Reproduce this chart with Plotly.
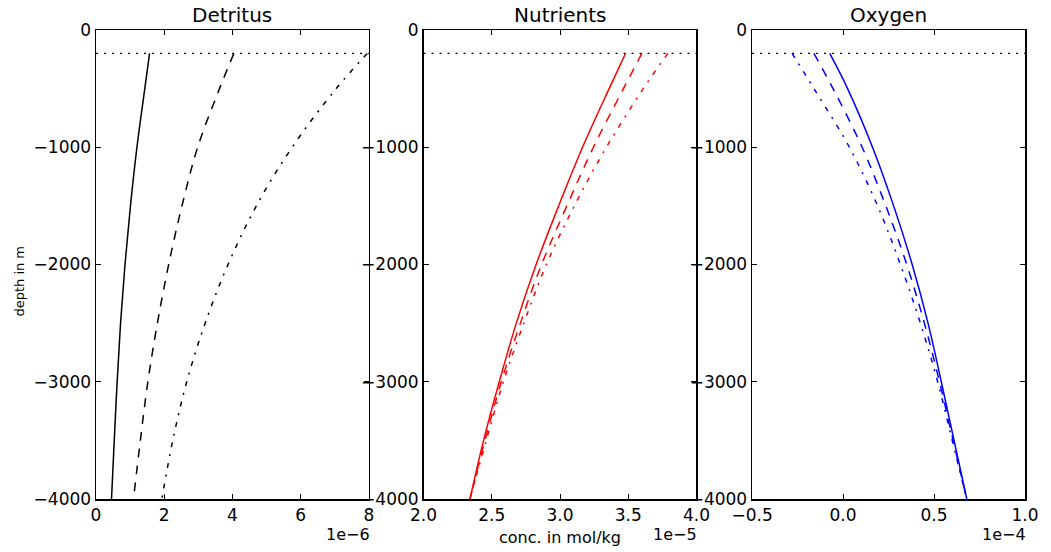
import plotly.graph_objects as go

# ---- data ----
depth = [-200, -500, -1000, -1500, -2000, -2500, -3000, -3500, -4000]
mixed_layer_depth = -200

detritus_solid = [1.57e-6, 1.43e-6, 1.20e-6, 1.01e-6, 0.85e-6, 0.72e-6, 0.62e-6, 0.535e-6, 0.455e-6]
detritus_dash = [4.04e-6, 3.62e-6, 2.98e-6, 2.52e-6, 2.13e-6, 1.80e-6, 1.52e-6, 1.30e-6, 1.10e-6]
detritus_dashdot = [7.95e-6, 7.04e-6, 5.75e-6, 4.70e-6, 3.87e-6, 3.20e-6, 2.66e-6, 2.25e-6, 1.93e-6]

nutrients_solid = [3.48e-5, 3.36e-5, 3.165e-5, 2.99e-5, 2.825e-5, 2.68e-5, 2.555e-5, 2.44e-5, 2.34e-5]
nutrients_dash = [3.60e-5, 3.465e-5, 3.245e-5, 3.05e-5, 2.865e-5, 2.71e-5, 2.57e-5, 2.45e-5, 2.34e-5]
nutrients_dashdot = [3.79e-5, 3.61e-5, 3.34e-5, 3.105e-5, 2.90e-5, 2.735e-5, 2.585e-5, 2.46e-5, 2.34e-5]

oxygen_solid = [-0.073e-4, 0.025e-4, 0.162e-4, 0.278e-4, 0.38e-4, 0.467e-4, 0.54e-4, 0.61e-4, 0.68e-4]
oxygen_dash = [-0.16e-4, -0.055e-4, 0.105e-4, 0.235e-4, 0.350e-4, 0.447e-4, 0.530e-4, 0.605e-4, 0.68e-4]
oxygen_dashdot = [-0.28e-4, -0.16e-4, 0.035e-4, 0.19e-4, 0.315e-4, 0.425e-4, 0.52e-4, 0.60e-4, 0.68e-4]

titles = ["Detritus", "Nutrients", "Oxygen"]
x_ranges = [[0, 8e-6], [2e-5, 4e-5], [-0.5e-4, 1.0e-4]]
x_tickvals = [[0, 2e-6, 4e-6, 6e-6, 8e-6],
              [2.0e-5, 2.5e-5, 3.0e-5, 3.5e-5, 4.0e-5],
              [-0.5e-4, 0.0, 0.5e-4, 1.0e-4]]
x_ticktext = [["0", "2", "4", "6", "8"],
              ["2.0", "2.5", "3.0", "3.5", "4.0"],
              ["\u22120.5", "0.0", "0.5", "1.0"]]
offset_texts = ["1e\u22126", "1e\u22125", "1e\u22124"]
y_tickvals = [0, -1000, -2000, -3000, -4000]
y_ticktext = ["0", "\u22121000", "\u22122000", "\u22123000", "\u22124000"]
colors = ["black", "red", "blue"]

series = [
    [detritus_solid, detritus_dash, detritus_dashdot],
    [nutrients_solid, nutrients_dash, nutrients_dashdot],
    [oxygen_solid, oxygen_dash, oxygen_dashdot],
]
dashes = ["solid", "9px,8px", "5px,7px,2px,7px"]

FONT = "DejaVu Sans"
W, H = 1051, 552
L, R, T, B = 96, 19, 30, 53
plot_w = W - L - R
plot_h = H - T - B
panel_px = [(96, 371), (426, 701), (757, 1032)]
domains = [[(a - L) / plot_w, (b - L) / plot_w] for a, b in panel_px]

fig = go.Figure()

for i in range(3):
    xa = "x" if i == 0 else f"x{i+1}"
    ya = "y" if i == 0 else f"y{i+1}"
    for vals, dash in zip(series[i], dashes):
        fig.add_trace(go.Scatter(
            x=vals, y=depth, mode="lines", xaxis=xa, yaxis=ya,
            line=dict(color=colors[i], width=1.5, dash=dash, shape="spline", smoothing=1.0),
            showlegend=False, hoverinfo="skip"))
    fig.add_trace(go.Scatter(
        x=x_ranges[i], y=[mixed_layer_depth, mixed_layer_depth], mode="lines",
        xaxis=xa, yaxis=ya, line=dict(color="black", width=1.3, dash="2px,6px"),
        showlegend=False, hoverinfo="skip"))

axis_common = dict(
    showline=True, linecolor="black", linewidth=1.5, mirror="ticks",
    ticks="inside", ticklen=5, tickwidth=1, tickcolor="black",
    showgrid=False, zeroline=False,
    tickfont=dict(family=FONT, size=17, color="black"),
)

layout = dict(
    width=W, height=H,
    margin=dict(l=L, r=R, t=T, b=B),
    paper_bgcolor="white", plot_bgcolor="white",
    font=dict(family=FONT, color="black"),
    annotations=[],
)

for i in range(3):
    xk = "xaxis" if i == 0 else f"xaxis{i+1}"
    yk = "yaxis" if i == 0 else f"yaxis{i+1}"
    ya = "y" if i == 0 else f"y{i+1}"
    xa = "x" if i == 0 else f"x{i+1}"
    layout[xk] = dict(axis_common, domain=domains[i], range=x_ranges[i],
                      tickvals=x_tickvals[i], ticktext=x_ticktext[i], anchor=ya)
    layout[yk] = dict(axis_common, domain=[0, 1], range=[-4000, 0],
                      tickvals=y_tickvals, ticktext=y_ticktext, anchor=xa)
    dom = "x domain" if i == 0 else f"x{i+1} domain"
    layout["annotations"].append(dict(
        text=titles[i], xref=dom, yref="paper", x=0.5, y=1 + 15 / plot_h,
        xanchor="center", yanchor="middle", showarrow=False,
        font=dict(family=FONT, size=20, color="black")))
    layout["annotations"].append(dict(
        text=offset_texts[i], xref=dom, yref="paper", x=1, y=-35 / plot_h,
        xanchor="right", yanchor="middle", xshift=3, showarrow=False,
        font=dict(family=FONT, size=16, color="black")))

layout["annotations"].append(dict(
    text="conc. in mol/kg", xref="x2 domain", yref="paper", x=0.5, y=-38 / plot_h,
    xanchor="center", yanchor="middle", showarrow=False,
    font=dict(family=FONT, size=16, color="black")))
layout["annotations"].append(dict(
    text="depth in m", xref="paper", yref="paper", x=-(L - 18) / plot_w,
    y=1 - (281 - T) / plot_h,
    xanchor="center", yanchor="middle", textangle=-90, showarrow=False,
    font=dict(family=FONT, size=13, color="black")))

fig.update_layout(**layout)
fig.write_html(
    "out.html",
    config={"displayModeBar": False, "staticPlot": True},
    post_script="document.body.style.margin='0';"
                "document.documentElement.style.overflow='hidden';"
                "document.body.style.overflow='hidden';",
)
